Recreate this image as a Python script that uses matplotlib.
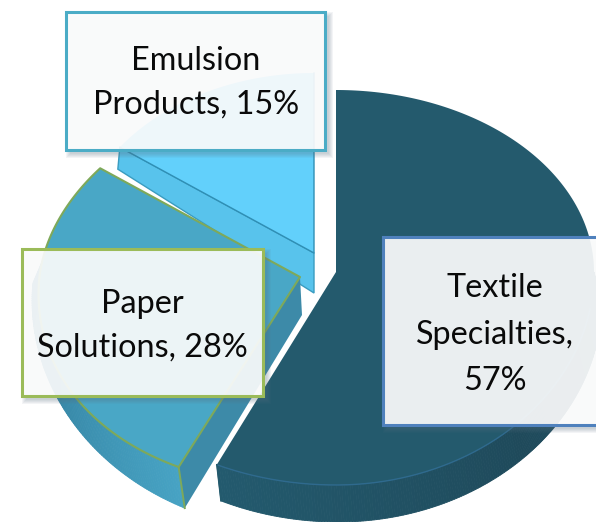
import numpy as np
import matplotlib
matplotlib.use('Agg')
import matplotlib.pyplot as plt
from matplotlib.patches import Polygon, Rectangle

plt.rcParams['font.family'] = ['Lato', 'DejaVu Sans']

categories = ['Textile Specialties', 'Paper Solutions', 'Emulsion Products']
shares = [57, 28, 15]
label_lines = [['Textile', 'Specialties,', '57%'],
               ['Paper', 'Solutions, 28%'],
               ['Emulsion', 'Products, 15%']]

W, H = 596, 522

# slice angles run clockwise from twelve o'clock
edges = 360 * np.cumsum([0] + shares) / np.sum(shares)
angle_range = dict(zip(categories, zip(edges[:-1], edges[1:])))


def rim(theta, cx, cy, rx_right, rx_left, ry_up, ry_down):
    # the near half of the disc is stretched to fake perspective
    if callable(rx_left):
        rx_left = rx_left(theta)
    t = np.radians(theta)
    s, c = np.sin(t), np.cos(t)
    x = cx + s * np.where(s >= 0, rx_right, rx_left)
    y = cy - c * np.where(c >= 0, ry_up, ry_down)
    return np.column_stack([x, y])


def mix(c0, c1, f):
    return tuple((1 - f) * np.array(matplotlib.colors.to_rgb(c0))
                 + f * np.array(matplotlib.colors.to_rgb(c1)))


def draw_wall(ax, t0, t1, top, bottom, col0, col1, zorder):
    # outer wall as thin quads so the shade can change along the arc
    th = np.linspace(t0, t1, 120)
    a, b = rim(th, *top), rim(th, *bottom)
    for i in range(len(th) - 1):
        f = i / (len(th) - 2)
        col = mix(col0, col1, f)
        ax.add_patch(Polygon([a[i], a[i + 1], b[i + 1], b[i]], closed=True,
                             fc=col, ec=col, lw=0.6, zorder=zorder))


fig = plt.figure(figsize=(W / 100, H / 100), dpi=100)
ax = fig.add_axes([0, 0, 1, 1])
ax.set_xlim(0, W)
ax.set_ylim(H, 0)
ax.axis('off')

# --- emulsion slice (back) ---
t0, t1 = angle_range['Emulsion Products']
top = (314, 253, 240, 240, 180, 180)
arc = rim(np.linspace(t0, t1, 80), *top)
apex = np.array([314, 253])
blue_edge = '#2f8fb5'
ax.add_patch(Polygon([apex, arc[0], arc[0] + [-2, 22], apex + [0, 40]], closed=True,
                     fc='#58c3ec', ec='#3a9cc0', lw=1.0, zorder=2))
ax.add_patch(Polygon(np.vstack([apex, arc]), closed=True,
                     fc='#62d0fb', ec='none', zorder=3))
ax.plot([arc[0, 0], apex[0], arc[-1, 0]], [arc[0, 1], apex[1], arc[-1, 1]],
        color=blue_edge, lw=1.0, zorder=3)

# --- textile slice ---
t0, t1 = angle_range['Textile Specialties']
top = (336, 272, 258, 280, 182, 213)
bottom = (338, 300, 264, 275, 182, 222)
draw_wall(ax, 90, 135, top, bottom, '#22566a', '#1f4a5b', 4)
draw_wall(ax, 135, t1, top, bottom, '#1f4a5b', '#235a6e', 4)
arc = rim(np.linspace(t0, t1, 240), *top)
ax.add_patch(Polygon(np.vstack([[336, 272], arc]), closed=True,
                     fc='#245a6d', ec='none', zorder=5))
edge = rim(np.linspace(100, t1, 160), *top)
ax.plot(edge[:, 0], edge[:, 1], color='#2f6a8e', lw=1.0, zorder=6)
ax.plot([edge[-1, 0], rim(np.array([t1]), *bottom)[0, 0]],
        [edge[-1, 1], rim(np.array([t1]), *bottom)[0, 1]],
        color='#245a6d', lw=1.0, zorder=6)

# --- paper slice (pulled out to the left) ---
t0, t1 = angle_range['Paper Solutions']
top = (300, 277, 258, lambda th: np.interp(th, [t0, t1], [285, 247]), 185, 210)
bottom = (298, 300, 266, 266, 200, 230)
draw_wall(ax, t0, 275, top, bottom, '#47a3c4', '#2a7290', 7)
apex = np.array([300, 277])
corner_top = rim(np.array([t0]), *top)[0]
corner_bot = rim(np.array([t0]), *bottom)[0]
green = '#7ea95a'
ax.add_patch(Polygon([apex, corner_top, corner_bot, apex + [2, 38]], closed=True,
                     fc='#3d8aa8', ec='none', zorder=7))
ax.plot([corner_top[0], corner_bot[0]], [corner_top[1], corner_bot[1]],
        color=green, lw=1.4, zorder=9)
arc = rim(np.linspace(t0, t1, 180), *top)
ax.add_patch(Polygon(np.vstack([apex, arc]), closed=True,
                     fc='#49a7c6', ec=green, lw=1.5, joinstyle='round', zorder=8))

# --- translucent callout boxes ---
boxes = [(383, 237, 230, 188, '#4f81bd', 495, [297, 344, 390]),
         (22, 249, 241, 147, '#9bbb59', 142, [313, 357]),
         (66, 12, 259, 138, '#4bacc6', 196, [70, 114])]
for (x, y, w, h, col, xt, baselines), lines in zip(boxes, label_lines):
    # soft shadow built from stacked faint rectangles
    for grow in range(5, 0, -1):
        ax.add_patch(Rectangle((x + 5 - grow, y + 5 - grow), w + 2 * grow - 2, h + 2 * grow - 2,
                               fc='#5a7080', ec='none', alpha=0.07, zorder=10))
    ax.add_patch(Rectangle((x, y), w, h, fc=(1, 1, 1, 0.9), ec=col, lw=2.2, zorder=11))
    for line, yb in zip(lines, baselines):
        ax.text(xt, yb, line, ha='center', va='baseline', fontsize=23.3, color='#0a0a0a', zorder=12)

fig.savefig('out.png', dpi=100, facecolor='white')
